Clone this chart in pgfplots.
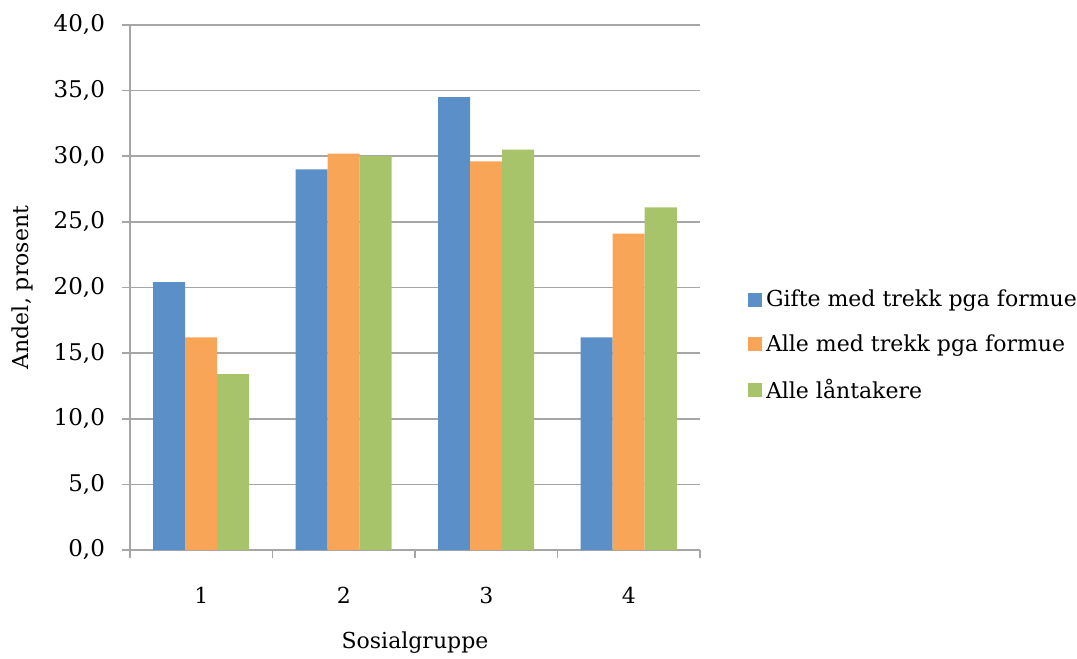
\documentclass[border=0pt]{standalone}
\usepackage{fontspec}
\setmainfont{DejaVu Serif}
\usepackage{pgfplots}
\pgfplotsset{compat=1.18}
\definecolor{cblue}{HTML}{5B8FC8}
\definecolor{corange}{HTML}{F9A557}
\definecolor{cgreen}{HTML}{A8C46A}
\definecolor{gridgray}{HTML}{A6A6A6}
\begin{document}
\begin{tikzpicture}[font=\fontsize{11}{13}\selectfont]
\useasboundingbox (-65pt,-54.5pt) rectangle (473.5pt,275pt);
\begin{axis}[
  at={(0,0)}, anchor=south west,
  scale only axis, width=285pt, height=262.5pt,
  ybar=0pt, bar width=16pt,
  xmin=0.5, xmax=4.5, ymin=0, ymax=40,
  xtick={1,2,3,4},
  xticklabels={1,2,3,4},
  minor xtick={0.5,1.5,2.5,3.5,4.5},
  ytick distance=5,
  axis x line*=bottom, axis y line*=left,
  axis line style={gridgray, line width=0.8pt, -},
  ymajorgrids, grid style={gridgray, line width=0.8pt},
  tick align=outside,
  major tick length=4pt, minor tick length=4pt,
  major x tick style={draw=none},
  minor x tick style={gridgray, line width=0.8pt},
  major y tick style={gridgray, line width=0.8pt},
  xticklabel style={anchor=center, yshift=-18.5pt},
  yticklabel style={anchor=east, xshift=-5pt, font=\fontsize{11.5}{13}\selectfont},
  /pgf/number format/.cd, fixed, fixed zerofill, precision=1, use comma, assume math mode=true,
  /pgfplots/.cd,
  xlabel={Sosialgruppe},
  xlabel style={at={(axis description cs:0.5,-0.177)}, anchor=center},
  ylabel={Andel, prosent},
  ylabel style={at={(axis description cs:-0.189,0.5)}, anchor=center},
  legend style={at={(axis description cs:1.073,0.389)}, anchor=west, draw=none, fill=none,
    row sep=8.5pt, cells={anchor=west}},
  legend cell align=left,
  legend image code/.code={\fill (-2pt,-3.5pt) rectangle (5pt,3.5pt);},
]
\addplot[fill=cblue, draw=none] coordinates {(1,20.4) (2,29.0) (3,34.5) (4,16.2)};
\addplot[fill=corange, draw=none] coordinates {(1,16.2) (2,30.2) (3,29.6) (4,24.1)};
\addplot[fill=cgreen, draw=none] coordinates {(1,13.4) (2,30.0) (3,30.5) (4,26.1)};
\legend{Gifte med trekk pga formue, Alle med trekk pga formue, Alle låntakere}
\end{axis}
\end{tikzpicture}
\end{document}
